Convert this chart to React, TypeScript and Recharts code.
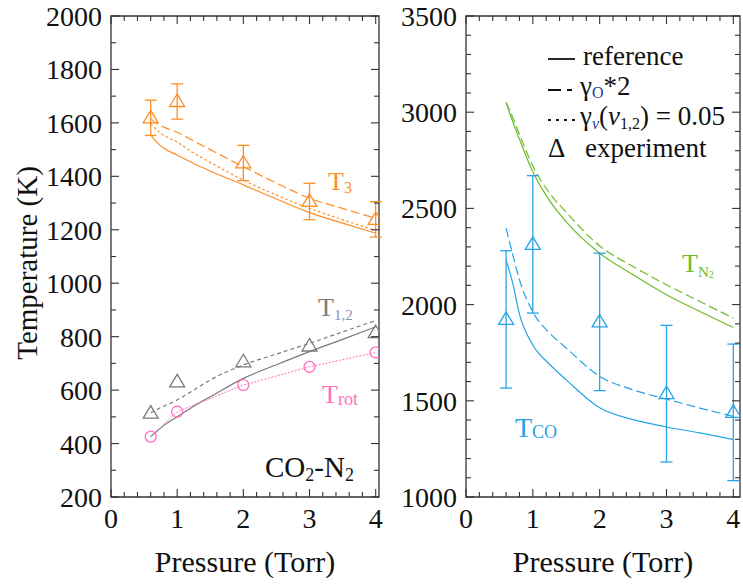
import React from "react";
import { ComposedChart, Line, Scatter, XAxis, YAxis, ErrorBar, ReferenceArea } from "recharts";

const FONT = "'Liberation Serif', 'Times New Roman', Times, serif";
const SERIF = { fontFamily: FONT };
const INK = "#111";
const AXIS = "#333";
const ORANGE = "#ff8d26";
const GRAY = "#7a7a7a";
const PINK = "#ff6fc0";
const GREEN = "#6cbd2a";
const BLUE = "#26a3e6";

// ---------- data ----------
const CURVE_P = [0.6, 0.7, 0.8, 1, 1.25, 1.5, 2, 2.5, 3, 3.5, 4];
const EXP_P = [0.6, 1, 2, 3, 4];

// left panel (CO2-N2)
const T3_REF = [1555, 1525, 1505, 1480, 1448, 1420, 1368, 1315, 1264, 1225, 1187];
const T3_GAMMA_O = [1615, 1597, 1584, 1565, 1532, 1500, 1436, 1375, 1318, 1280, 1243];
const T3_GAMMA_V = [1598, 1572, 1553, 1528, 1487, 1452, 1386, 1330, 1280, 1238, 1197];
const T12_REF = [426, 448, 468, 500, 540, 575, 644, 695, 744, 790, 837];
const T12_GAMMA_V = [515, 528, 540, 563, 600, 638, 694, 735, 775, 818, 860];
const T3_EXP = [1619, 1680, 1450, 1306, 1239];
const T3_ERR = [66, 66, 66, 68, 66];
const T12_EXP = [514, 631, 706, 765, 815];
const TROT_EXP = [426, 519, 619, 687, 741];

// right panel
const TN2_REF = [3050, 2950, 2860, 2690, 2540, 2430, 2267, 2155, 2051, 1964, 1881];
const TN2_GAMMA_O = [3052, 2972, 2885, 2720, 2580, 2480, 2305, 2198, 2103, 2016, 1930];
const TCO_REF = [2233, 2110, 1950, 1790, 1690, 1609, 1464, 1402, 1364, 1333, 1298];
const TCO_GAMMA_O = [2397, 2259, 2129, 1962, 1852, 1774, 1627, 1557, 1509, 1462, 1419];
const TCO_EXP = [1923, 2313, 1910, 1537, 1440];
const TCO_ERR = [357, 357, 357, 355, 355];

// ticks
const X_TICKS = Array.from({ length: 21 }, (_, i) => i / 5);
const LEFT_Y_TICKS = Array.from({ length: 19 }, (_, i) => 200 + i * 100);
const RIGHT_Y_TICKS = Array.from({ length: 26 }, (_, i) => 1000 + i * 100);

const pts = (xs: number[], ys: number[]) => xs.map((x, i) => ({ x, y: ys[i] }));
const exp = (xs: number[], ys: number[], es: number[]) => xs.map((x, i) => ({ x, y: ys[i], err: es[i] }));

// ---------- layout ----------
const TOP = 16;
const PLOT_H = 481;

const makeXTick = (topY: number) => (props: any) => {
  const { x, y, payload } = props;
  const v = payload.value as number;
  const major = Math.abs(v - Math.round(v)) < 1e-9;
  const len = major ? 8 : 5;
  return (
    <g>
      <line x1={x} y1={y} x2={x} y2={y - len} stroke={AXIS} strokeWidth={1.1} />
      <line x1={x} y1={topY} x2={x} y2={topY + len} stroke={AXIS} strokeWidth={1.1} />
      {major && (
        <text x={x} y={y + 31} textAnchor="middle" fontSize={28} style={SERIF} fill={INK}>
          {Math.round(v)}
        </text>
      )}
    </g>
  );
};

const makeYTick = (rightX: number, step: number) => (props: any) => {
  const { x, y, payload } = props;
  const v = payload.value as number;
  const major = v % step === 0;
  const len = major ? 8 : 5;
  return (
    <g>
      <line x1={x} y1={y} x2={x + len} y2={y} stroke={AXIS} strokeWidth={1.1} />
      <line x1={rightX} y1={y} x2={rightX - len} y2={y} stroke={AXIS} strokeWidth={1.1} />
      {major && (
        <text x={x - 9} y={y + 10} textAnchor="end" fontSize={28} style={SERIF} fill={INK}>
          {v}
        </text>
      )}
    </g>
  );
};

const triangle = (color: string) => (props: any) => {
  const { cx, cy } = props;
  return (
    <polygon
      points={`${cx},${cy - 7.5} ${cx - 7.5},${cy + 5} ${cx + 7.5},${cy + 5}`}
      fill="none"
      stroke={color}
      strokeWidth={1.3}
    />
  );
};

const circle = (color: string) => (props: any) => {
  const { cx, cy } = props;
  return <circle cx={cx} cy={cy} r={5.5} fill="none" stroke={color} strokeWidth={1.3} />;
};

const yTitle = (props: any) => {
  const vb = props.viewBox || { x: 0, y: TOP, width: 111, height: PLOT_H };
  const cx = vb.x + 37;
  const cy = vb.y + vb.height / 2 + 6.5;
  return (
    <text
      x={cx}
      y={cy}
      transform={`rotate(-90 ${cx} ${cy})`}
      textAnchor="middle"
      fontSize={29}
      style={SERIF}
      fill={INK}
    >
      Temperature (K)
    </text>
  );
};

const xTitle = (props: any) => {
  const vb = props.viewBox || { x: 111, y: 497, width: 268, height: 87 };
  return (
    <text x={vb.x + vb.width / 2} y={vb.y + 75} textAnchor="middle" fontSize={30} style={SERIF} fill={INK}>
      Pressure (Torr)
    </text>
  );
};

const curve = (data: any[], color: string, dash?: string, w = 1.2) => (
  <Line
    data={data}
    dataKey="y"
    type="monotone"
    stroke={color}
    strokeWidth={w}
    strokeDasharray={dash}
    dot={false}
    activeDot={false}
    isAnimationActive={false}
    legendType="none"
  />
);

function LeftPanel() {
  const XMAX = 4.05;
  return (
    <ComposedChart width={390} height={584} margin={{ top: TOP, right: 11, bottom: 0, left: 0 }} style={SERIF}>
      <XAxis
        type="number"
        dataKey="x"
        domain={[0, XMAX]}
        allowDataOverflow
        ticks={X_TICKS}
        interval={0}
        tickSize={0}
        tickMargin={0}
        tickLine={false}
        axisLine={false}
        height={87}
        tick={makeXTick(TOP)}
        label={xTitle}
      />
      <YAxis
        type="number"
        dataKey="y"
        domain={[200, 2000]}
        allowDataOverflow
        ticks={LEFT_Y_TICKS}
        interval={0}
        tickSize={0}
        tickMargin={0}
        tickLine={false}
        axisLine={false}
        width={111}
        tick={makeYTick(379, 200)}
        label={yTitle}
      />
      <ReferenceArea x1={0} x2={XMAX} y1={200} y2={2000} fill="none" stroke={AXIS} strokeWidth={1.3} fillOpacity={0} />
      {curve(pts(CURVE_P, T3_REF), ORANGE)}
      {curve(pts(CURVE_P, T3_GAMMA_O), ORANGE, "9 4")}
      {curve(pts(CURVE_P, T3_GAMMA_V), ORANGE, "2.5 2.5")}
      {curve(pts(CURVE_P, T12_REF), GRAY)}
      {curve(pts(CURVE_P, T12_GAMMA_V), GRAY, "4 3")}
      <Line
        data={pts(EXP_P, TROT_EXP)}
        dataKey="y"
        type="linear"
        stroke={PINK}
        strokeWidth={1}
        strokeDasharray="2 1.5"
        dot={false}
        activeDot={false}
        isAnimationActive={false}
      />
      <Scatter data={exp(EXP_P, T3_EXP, T3_ERR)} dataKey="y" shape={triangle(ORANGE)} isAnimationActive={false}>
        <ErrorBar dataKey="err" direction="y" width={6} stroke={ORANGE} strokeWidth={1.3} isAnimationActive={false} />
      </Scatter>
      <Scatter data={pts(EXP_P, T12_EXP)} dataKey="y" shape={triangle(GRAY)} isAnimationActive={false} />
      <Scatter data={pts(EXP_P, TROT_EXP)} dataKey="y" shape={circle(PINK)} isAnimationActive={false} />
    </ComposedChart>
  );
}

function RightPanel() {
  const XMAX = 4.1;
  return (
    <ComposedChart width={388} height={584} margin={{ top: TOP, right: 3, bottom: 0, left: 0 }} style={SERIF}>
      <XAxis
        type="number"
        dataKey="x"
        domain={[0, XMAX]}
        allowDataOverflow
        ticks={X_TICKS}
        interval={0}
        tickSize={0}
        tickMargin={0}
        tickLine={false}
        axisLine={false}
        height={87}
        tick={makeXTick(TOP)}
        label={xTitle}
      />
      <YAxis
        type="number"
        dataKey="y"
        domain={[1000, 3500]}
        allowDataOverflow
        ticks={RIGHT_Y_TICKS}
        interval={0}
        tickSize={0}
        tickMargin={0}
        tickLine={false}
        axisLine={false}
        width={111}
        tick={makeYTick(385, 500)}
      />
      <ReferenceArea x1={0} x2={XMAX} y1={1000} y2={3500} fill="none" stroke={AXIS} strokeWidth={1.3} fillOpacity={0} />
      {curve(pts(CURVE_P, TN2_REF), GREEN)}
      {curve(pts(CURVE_P, TN2_GAMMA_O), GREEN, "9 4")}
      {curve(pts(CURVE_P, TCO_REF), BLUE)}
      {curve(pts(CURVE_P, TCO_GAMMA_O), BLUE, "9 4")}
      <Scatter data={exp(EXP_P, TCO_EXP, TCO_ERR)} dataKey="y" shape={triangle(BLUE)} isAnimationActive={false}>
        <ErrorBar dataKey="err" direction="y" width={6} stroke={BLUE} strokeWidth={1.3} isAnimationActive={false} />
      </Scatter>
    </ComposedChart>
  );
}

function Overlay() {
  return (
    <svg
      width={743}
      height={584}
      style={{ position: "absolute", left: 0, top: 0, pointerEvents: "none", fontFamily: FONT }}
    >
      {/* series annotations */}
      <text x={328} y={190} fontSize={26} fill={ORANGE} style={SERIF}>
        T<tspan fontSize={16} dy={3}>3</tspan>
      </text>
      <text x={318} y={316} fontSize={26} fill={GRAY} style={SERIF}>
        T<tspan fontSize={15} dy={4} fill="#7f93b0">1,2</tspan>
      </text>
      <text x={322} y={403} fontSize={26} fill={PINK} style={SERIF}>
        T<tspan fontSize={18} dy={2}>rot</tspan>
      </text>
      <text x={265} y={477} fontSize={29} fill={INK} style={SERIF}>
        CO<tspan fontSize={18} dy={4}>2</tspan>
        <tspan dy={-4}>-N</tspan>
        <tspan fontSize={18} dy={4}>2</tspan>
      </text>
      <text x={682} y={272} fontSize={26} fill={GREEN} style={SERIF}>
        T<tspan fontSize={15} dy={5}>N</tspan>
        <tspan fontSize={10} dy={1}>2</tspan>
      </text>
      <text x={515} y={437} fontSize={28} fill={BLUE} style={SERIF}>
        T<tspan fontSize={18} dy={1}>CO</tspan>
      </text>

      {/* legend */}
      <line x1={548} y1={59} x2={575} y2={59} stroke={INK} strokeWidth={1.8} />
      <text x={583} y={65} fontSize={27} fill={INK} style={SERIF}>reference</text>

      <line x1={548} y1={90} x2={575} y2={90} stroke={INK} strokeWidth={1.8} strokeDasharray="13 6 5 100" />
      <text x={580} y={95} fontSize={27} fill={INK} style={SERIF}>
        γ<tspan fontSize={16} dy={3} fill="#2a3a8a">O</tspan>
        <tspan dy={-3}>*2</tspan>
      </text>

      <line x1={548} y1={120} x2={575} y2={120} stroke={INK} strokeWidth={1.8} strokeDasharray="3 5" />
      <text x={580} y={125} fontSize={27} fill={INK} style={SERIF}>
        γ<tspan fontSize={16} dy={4} fontStyle="italic" fill="#2a3a8a">ν</tspan>
        <tspan dy={-4}>(</tspan>
        <tspan fontStyle="italic">ν</tspan>
        <tspan fontSize={16} dy={4}>1,2</tspan>
        <tspan dy={-4}>) = 0.05</tspan>
      </text>

      <text x={548} y={157} fontSize={27} fill={INK} style={SERIF}>Δ</text>
      <text x={585} y={157} fontSize={27} fill={INK} style={SERIF}>experiment</text>
    </svg>
  );
}

export default function App() {
  return (
    <div
      style={{
        position: "absolute",
        left: 0,
        top: 0,
        width: 743,
        height: 584,
        background: "#fff",
        fontFamily: FONT,
      }}
    >
      <div style={{ position: "absolute", left: 0, top: 0 }}>
        <LeftPanel />
      </div>
      <div style={{ position: "absolute", left: 355, top: 0 }}>
        <RightPanel />
      </div>
      <Overlay />
    </div>
  );
}
